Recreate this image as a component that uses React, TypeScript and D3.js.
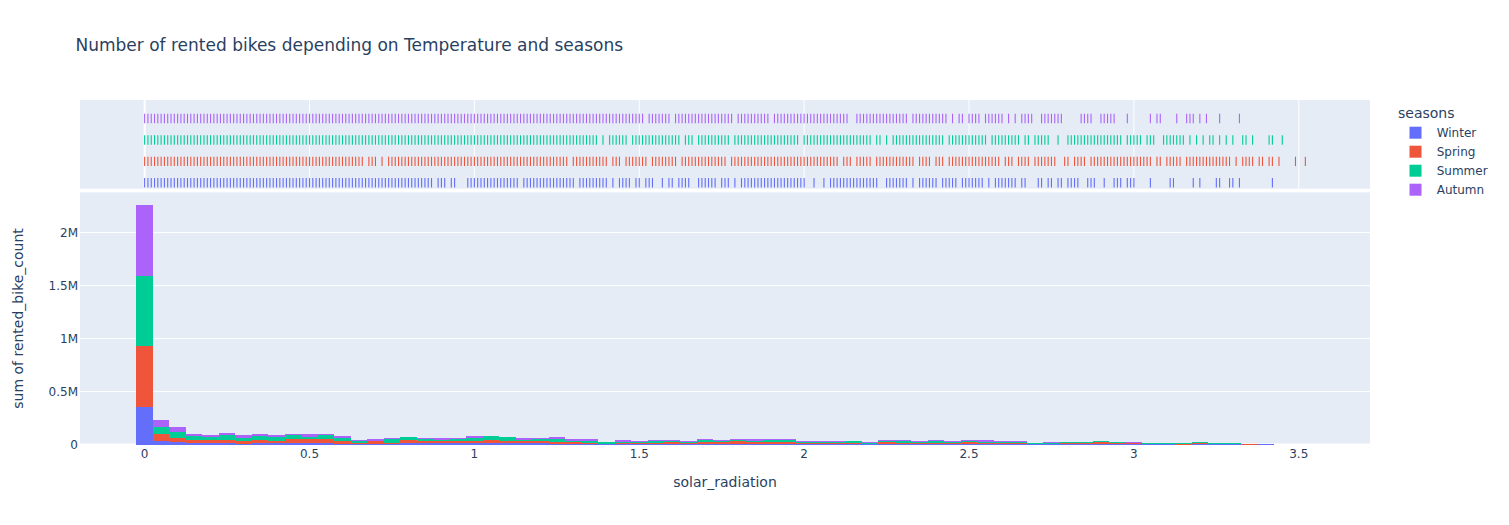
import * as d3 from "d3";

const SEASONS = ["Winter", "Spring", "Summer", "Autumn"];
const COLORS = ["#636efa", "#EF553B", "#00cc96", "#ab63fa"];

// histogram bins of solar_radiation (size 0.05)
const BIN_SIZE = 0.05;
const BIN_CENTERS = [
  0, 0.05, 0.1, 0.15, 0.2, 0.25, 0.3, 0.35, 0.4, 0.45,
  0.5, 0.55, 0.6, 0.65, 0.7, 0.75, 0.8, 0.85, 0.9, 0.95,
  1, 1.05, 1.1, 1.15, 1.2, 1.25, 1.3, 1.35, 1.4, 1.45,
  1.5, 1.55, 1.6, 1.65, 1.7, 1.75, 1.8, 1.85, 1.9, 1.95,
  2, 2.05, 2.1, 2.15, 2.2, 2.25, 2.3, 2.35, 2.4, 2.45,
  2.5, 2.55, 2.6, 2.65, 2.7, 2.75, 2.8, 2.85, 2.9, 2.95,
  3, 3.05, 3.1, 3.15, 3.2, 3.25, 3.3, 3.35, 3.4,
];

// sum of rented_bike_count per bin, in thousands
const WINTER_K = [
  350, 35, 28, 16, 13, 16, 9, 13, 13, 13,
  13, 13, 9, 6, 9, 6, 13, 13, 13, 16,
  16, 13, 16, 13, 16, 9, 9, 6, 3, 6,
  6, 6, 9, 6, 6, 6, 6, 6, 9, 6,
  6, 6, 6, 6, 3, 6, 6, 6, 6, 6,
  6, 6, 6, 6, 3, 3, 6, 3, 2, 6,
  6, 2, 3, 0, 3, 3, 6, 0, 2,
];
const SPRING_K = [
  579, 69, 38, 32, 35, 32, 22, 35, 22, 41,
  38, 41, 25, 13, 22, 6, 35, 19, 19, 19,
  19, 32, 16, 19, 19, 19, 13, 13, 6, 13,
  6, 13, 13, 9, 16, 16, 32, 16, 16, 19,
  9, 6, 6, 9, 6, 19, 13, 13, 13, 13,
  16, 13, 13, 13, 6, 6, 13, 13, 19, 6,
  6, 6, 6, 6, 16, 6, 3, 6, 6,
];
const SUMMER_K = [
  665, 63, 54, 32, 22, 38, 35, 35, 38, 32,
  22, 32, 28, 16, 6, 38, 25, 19, 16, 19,
  25, 32, 41, 13, 19, 28, 16, 19, 13, 9,
  16, 16, 9, 13, 19, 16, 6, 16, 19, 19,
  9, 13, 16, 19, 9, 13, 16, 6, 16, 9,
  13, 9, 9, 9, 6, 9, 6, 9, 9, 13,
  6, 6, 6, 6, 6, 6, 6, 0, 0,
];
const AUTUMN_K = [
  666, 69, 47, 22, 22, 25, 25, 19, 19, 16,
  28, 16, 19, 9, 16, 13, 3, 13, 16, 9,
  22, 3, 3, 19, 6, 16, 16, 16, 6, 16,
  9, 9, 13, 6, 13, 6, 9, 16, 9, 9,
  9, 9, 6, 1, 6, 6, 9, 9, 9, 6,
  9, 16, 6, 6, 0, 6, 2, 3, 3, 0,
  6, 3, 3, 3, 1, 1, 1, 0, 0,
];

// rug marks: observed solar_radiation values, in hundredths
const RUG_WINTER = [
  0, 1, 2, 3, 4, 5, 6, 7, 8, 9, 10, 11, 12, 13, 14, 15, 16, 17, 18, 19,
  20, 21, 22, 23, 24, 25, 26, 27, 28, 29, 30, 31, 32, 33, 34, 35, 36, 37, 38, 39,
  40, 41, 42, 43, 44, 45, 46, 47, 48, 49, 50, 51, 52, 53, 54, 55, 56, 57, 58, 59,
  60, 61, 62, 63, 64, 65, 66, 67, 68, 69, 70, 71, 72, 73, 74, 75, 76, 77, 78, 79,
  80, 81, 82, 83, 84, 85, 86, 87, 89, 90, 91, 93, 94,
  98, 99, 100, 101, 102, 103, 104, 105, 106, 107, 108, 109, 110, 111, 112, 113,
  115, 116, 117, 118, 119, 120, 121, 122, 123, 124, 125, 126, 127, 128, 129, 130,
  132, 133, 134, 135, 136, 137, 138, 139, 140, 142, 144, 145, 146, 147, 149, 150,
  152, 153, 154, 157, 159, 160, 162, 163, 164, 165, 168, 169, 170, 171, 172, 173,
  175, 176, 177, 179, 181, 182, 183, 184, 185, 186, 187, 188, 189, 190, 191, 192,
  193, 194, 195, 196, 197, 198, 199, 200, 203, 206, 208, 209, 210, 211, 212, 213,
  214, 215, 216, 217, 218, 219, 220, 221, 222, 225, 226, 227, 228, 229, 230, 231,
  233, 235, 236, 237, 238, 239, 240, 242, 243, 244, 245, 246, 248, 249, 250, 251,
  252, 253, 254, 256, 258, 259, 260, 261, 262, 263, 264, 266, 267, 271, 272, 274,
  275, 277, 278, 280, 281, 282, 283, 286, 287, 288, 291, 294, 295, 296, 298, 299,
  300, 305, 311, 312, 318, 320, 325, 326, 329, 330, 332, 342,
];
const RUG_SPRING = [
  0, 1, 2, 3, 4, 5, 6, 7, 8, 9, 10, 11, 12, 13, 14, 15, 16, 17, 18, 19,
  20, 21, 22, 23, 24, 25, 26, 27, 28, 29, 30, 31, 32, 33, 34, 35, 36, 37, 38, 39,
  40, 41, 42, 43, 44, 45, 46, 47, 48, 49, 50, 51, 52, 53, 54, 55, 56, 57, 58, 59,
  60, 61, 62, 63, 64, 65, 66, 68, 69, 70, 72, 74, 75, 76, 77, 78, 79,
  80, 81, 82, 83, 84, 85, 86, 87, 88, 89, 90, 91, 92, 93, 94, 95, 96, 97, 98, 99,
  100, 101, 102, 103, 104, 105, 106, 107, 108, 109, 110, 111, 112, 113, 114, 115,
  116, 117, 118, 119, 120, 121, 122, 123, 124, 125, 126, 127, 128,
  130, 131, 132, 133, 134, 135, 136, 137, 138, 139, 140, 142, 143, 144,
  146, 147, 148, 149, 150, 151, 152, 154, 155, 156, 157, 158, 159, 160, 161,
  163, 164, 165, 166, 167, 168, 169, 170, 171, 172, 173, 174, 175, 176,
  178, 179, 180, 181, 182, 183, 184, 185, 186, 187, 188, 189, 190, 191, 192, 193,
  194, 195, 196, 197, 198, 199, 200, 201, 202, 203, 204, 205, 206, 207, 208, 209, 210,
  212, 213, 214, 216, 217, 218, 219, 220, 222, 223, 224, 225, 226, 227, 228, 229,
  230, 231, 232, 233, 235, 236, 237, 238, 240, 241, 242, 244, 245, 246, 247, 248,
  249, 250, 251, 252, 253, 254, 255, 256, 257, 258, 259, 261, 262, 263,
  265, 266, 267, 268, 270, 271, 272, 273, 274, 275, 276, 279, 280, 282, 283, 284, 285,
  287, 288, 289, 290, 291, 292, 293, 294, 295, 296, 297, 298, 299, 300, 301, 302,
  303, 304, 305, 307, 308, 310, 311, 312, 313, 314, 316, 317, 318, 319, 320, 321,
  322, 323, 324, 325, 326, 327, 328, 329, 331, 333, 334, 335, 336, 338, 339, 341,
  342, 344, 349, 352,
];
const RUG_SUMMER = [
  0, 1, 2, 3, 4, 5, 6, 7, 8, 9, 10, 11, 12, 13, 14, 15, 16, 17, 18, 19,
  20, 21, 22, 23, 24, 25, 26, 27, 28, 29, 30, 31, 32, 33, 34, 35, 36, 37, 38, 39,
  40, 41, 42, 43, 44, 45, 46, 47, 48, 49, 50, 51, 52, 53, 54, 55, 56, 57, 58, 59,
  60, 61, 62, 63, 64, 65, 66, 67, 68, 69, 70, 71, 72, 73, 74, 75, 76, 77, 78, 79,
  80, 81, 82, 83, 84, 85, 86, 87, 88, 89, 90, 91, 92, 93, 94, 95, 96, 97, 98, 99,
  100, 101, 102, 103, 104, 105, 106, 107, 108, 109, 110, 111, 112, 113, 114, 115,
  116, 117, 118, 119, 120, 121, 122, 123, 124, 125, 126, 127, 128, 129, 130, 131,
  132, 133, 134, 135, 136, 137, 139, 141, 142, 143, 144, 145, 146,
  148, 149, 150, 151, 152, 153, 154, 155, 156, 157, 158, 159, 160, 161, 162,
  164, 165, 166, 168, 169, 170, 171, 172, 173, 174, 175, 176, 177,
  179, 180, 181, 182, 183, 184, 185, 186, 187, 188, 189, 190, 191, 192, 193, 194,
  195, 196, 197, 198, 200, 201, 202, 203, 204, 205, 206, 207, 208, 209, 210, 211,
  212, 213, 214, 215, 216, 217, 218, 219, 220, 222, 223, 225,
  227, 228, 229, 230, 231, 232, 233, 234, 235, 236, 237, 238, 239, 240, 241, 242,
  244, 245, 246, 247, 248, 249, 250, 251, 252, 253, 254, 255,
  257, 258, 259, 260, 261, 262, 263, 264, 265, 267, 268, 270, 271, 272, 273, 274,
  277, 280, 281, 282, 283, 284, 285, 286, 287, 288, 289, 290, 291, 292, 293, 294,
  295, 296, 298, 299, 300, 301, 302, 304, 305, 306, 309, 310, 311, 312, 313, 314,
  315, 317, 319, 321, 323, 324, 326, 328, 330, 333, 334, 336, 341, 342, 345,
];
const RUG_AUTUMN = [
  0, 1, 2, 3, 4, 5, 6, 7, 8, 9, 10, 11, 12, 13, 14, 15, 16, 17, 18, 19,
  20, 21, 22, 23, 24, 25, 26, 27, 28, 29, 30, 31, 32, 33, 34, 35, 36, 37, 38, 39,
  40, 41, 42, 43, 44, 45, 46, 47, 48, 49, 50, 51, 52, 53, 54, 55, 56, 57, 58, 59,
  60, 61, 62, 63, 64, 65, 66, 67, 68, 69, 70, 71, 72, 73, 74, 75, 76, 77, 78, 79,
  80, 81, 82, 83, 84, 85, 86, 87, 88, 89, 90, 91, 92, 93, 94, 95, 96, 97, 98, 99,
  100, 101, 102, 103, 104, 105, 106, 107, 108, 109, 110, 111, 112, 113, 114, 115,
  116, 117, 118, 119, 120, 121, 122, 123, 124, 125, 126, 127, 128, 129, 130, 131,
  132, 133, 134, 135, 136, 137, 138, 139, 140, 141, 142, 143, 144, 145, 146, 147,
  148, 149, 150, 151, 153, 154, 155, 156, 157, 158, 159,
  161, 162, 163, 164, 165, 166, 167, 168, 169, 170, 171, 172, 173, 174, 175, 176,
  177, 178, 180, 181, 182, 183, 184, 185, 186, 187, 188, 189,
  191, 192, 193, 194, 195, 196, 197, 198, 199, 200, 201, 202, 203, 204, 205, 206,
  207, 208, 209, 210, 211, 212, 213, 216, 217, 218, 219, 220, 221, 222, 223, 224,
  225, 226, 227, 228, 229, 230, 231, 233, 234, 235, 236, 237, 238, 239, 240, 241,
  242, 243, 245, 247, 248, 250, 251, 252, 253, 255, 256, 257, 258, 259, 260, 262,
  264, 266, 267, 268, 269, 272, 273, 274, 275, 276, 277, 278, 284, 285, 286, 287,
  290, 291, 292, 293, 294, 298, 305, 307, 308, 313, 316, 317, 318, 320, 322, 326, 332,
];

const X_TICKS = [0, 0.5, 1, 1.5, 2, 2.5, 3, 3.5];
const X_TICK_LABELS = ["0", "0.5", "1", "1.5", "2", "2.5", "3", "3.5"];
const Y_TICKS = [0, 500000, 1000000, 1500000, 2000000];
const Y_TICK_LABELS = ["0", "0.5M", "1M", "1.5M", "2M"];

const FONT = "'DejaVu Sans', Verdana, sans-serif";
const TEXT = "#2a3f5f";
const BG = "#E5ECF6";

export default function App() {
  const width = 1509;
  const height = 525;
  const left = 80;
  const right = 1370;
  const rugTop = 100;
  const rugBottom = 188.7;
  const mainTop = 192.3;
  const mainBottom = 444.6;

  const x = d3.scaleLinear().domain([-0.196, 3.716]).range([left, right]);
  const y = d3.scaleLinear().domain([0, 2380000]).range([mainBottom, mainTop]);
  const rugY = d3
    .scalePoint<string>()
    .domain(["Autumn", "Summer", "Spring", "Winter"])
    .range([118.5, 182.8]);
  const color = d3.scaleOrdinal<string, string>().domain(SEASONS).range(COLORS);

  const perSeason: Record<string, number[]> = {
    Winter: WINTER_K,
    Spring: SPRING_K,
    Summer: SUMMER_K,
    Autumn: AUTUMN_K,
  };
  const rugs: Record<string, number[]> = {
    Winter: RUG_WINTER,
    Spring: RUG_SPRING,
    Summer: RUG_SUMMER,
    Autumn: RUG_AUTUMN,
  };

  const rows = BIN_CENTERS.map((c, i) => {
    const r: Record<string, number> = { bin: c };
    SEASONS.forEach((s) => (r[s] = perSeason[s][i] * 1000));
    return r;
  });
  const series = d3.stack<Record<string, number>>().keys(SEASONS)(rows);

  return (
    <svg
      width={width}
      height={height}
      style={{ position: "absolute", left: 0, top: 0, background: "#fff" }}
      fontFamily={FONT}
    >
      {/* rug panel */}
      <rect x={left} y={rugTop} width={right - left} height={rugBottom - rugTop} fill={BG} />
      {X_TICKS.map((t) => (
        <line
          key={`rg${t}`}
          x1={x(t)}
          x2={x(t)}
          y1={rugTop}
          y2={rugBottom}
          stroke="#fff"
          strokeWidth={t === 0 ? 2 : 1}
        />
      ))}
      {SEASONS.map((s) => (
        <g key={`rug${s}`} stroke={color(s)} strokeWidth={1.1}>
          {rugs[s].map((v) => (
            <line
              key={v}
              x1={x(v / 100)}
              x2={x(v / 100)}
              y1={(rugY(s) ?? 0) - 4.7}
              y2={(rugY(s) ?? 0) + 4.7}
            />
          ))}
        </g>
      ))}

      {/* main histogram panel */}
      <rect x={left} y={mainTop} width={right - left} height={mainBottom - mainTop} fill={BG} />
      {Y_TICKS.map((t) => (
        <line
          key={`yg${t}`}
          x1={left}
          x2={right}
          y1={y(t)}
          y2={y(t)}
          stroke="#fff"
          strokeWidth={t === 0 ? 2 : 1}
        />
      ))}
      {series.map((ser) => (
        <g key={ser.key} fill={color(ser.key)} shapeRendering="crispEdges">
          {ser.map((d, i) =>
            d[1] - d[0] > 0 ? (
              <rect
                key={i}
                x={x(d.data.bin - BIN_SIZE / 2)}
                width={x(d.data.bin + BIN_SIZE / 2) - x(d.data.bin - BIN_SIZE / 2)}
                y={y(d[1])}
                height={y(d[0]) - y(d[1])}
              />
            ) : null
          )}
        </g>
      ))}

      {/* axes */}
      {Y_TICKS.map((t, i) => (
        <text key={`yt${t}`} x={78} y={y(t)} dy="0.35em" textAnchor="end" fontSize={12} fill={TEXT}>
          {Y_TICK_LABELS[i]}
        </text>
      ))}
      {X_TICKS.map((t, i) => (
        <text key={`xt${t}`} x={x(t)} y={453.3} dy="0.35em" textAnchor="middle" fontSize={12} fill={TEXT}>
          {X_TICK_LABELS[i]}
        </text>
      ))}
      <text x={(left + right) / 2} y={487} textAnchor="middle" fontSize={14} fill={TEXT}>
        solar_radiation
      </text>
      <text
        transform={`translate(23,${(mainTop + mainBottom) / 2}) rotate(-90)`}
        textAnchor="middle"
        fontSize={14}
        fill={TEXT}
      >
        sum of rented_bike_count
      </text>

      {/* title */}
      <text x={75.5} y={51} fontSize={17} fill={TEXT}>
        Number of rented bikes depending on Temperature and seasons
      </text>

      {/* legend */}
      <text x={1398} y={118.3} fontSize={14} fill={TEXT}>
        seasons
      </text>
      {SEASONS.map((s, i) => (
        <g key={`lg${s}`} transform={`translate(1415.5,${132.7 + i * 19})`}>
          <rect x={-6} y={-6} width={12} height={12} fill={color(s)} />
          <text x={21.2} y={0} dy="0.38em" fontSize={12} fill={TEXT}>
            {s}
          </text>
        </g>
      ))}
    </svg>
  );
}
